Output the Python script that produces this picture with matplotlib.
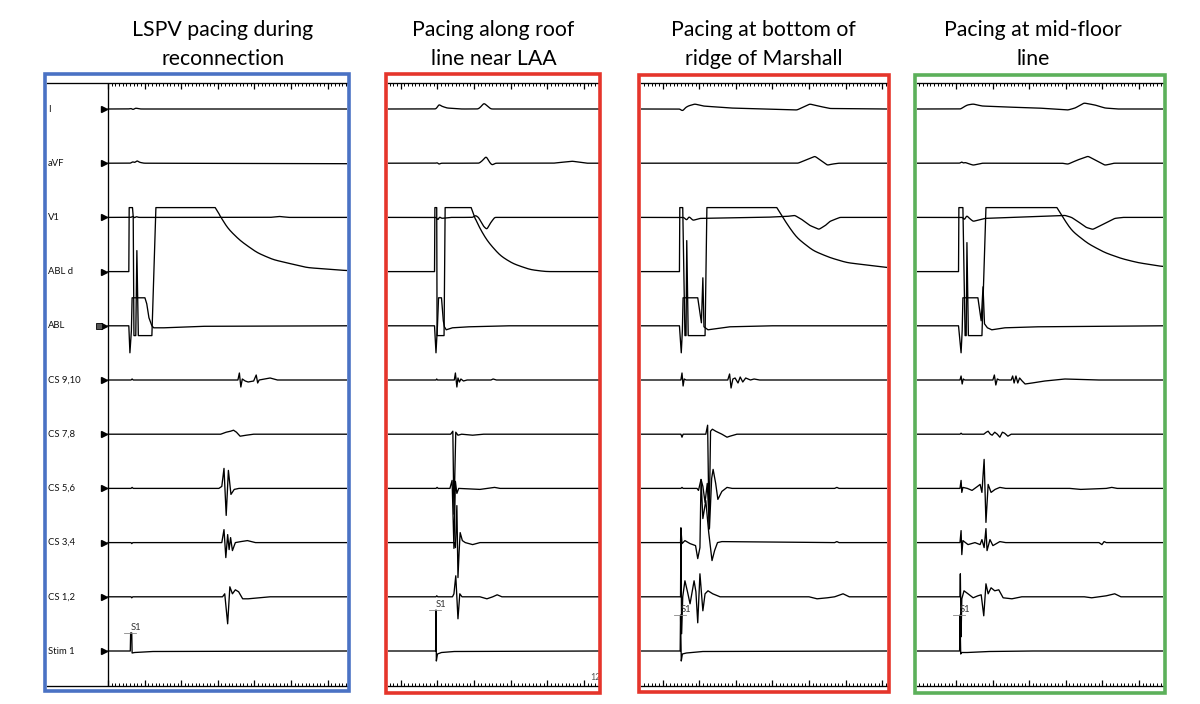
import matplotlib
matplotlib.use("Agg")
import matplotlib.pyplot as plt
from matplotlib.patches import Rectangle
from matplotlib.transforms import blended_transform_factory
import numpy as np

# ---------------- data (time in ms after stimulus, amplitude in a.u.) ----------------
channels = ["I", "aVF", "V1", "ABL d", "ABL", "CS 9,10", "CS 7,8",
            "CS 5,6", "CS 3,4", "CS 1,2", "Stim 1"]

titles = [["LSPV pacing during", "reconnection"],
          ["Pacing along roof", "line near LAA"],
          ["Pacing at bottom of", "ridge of Marshall"],
          ["Pacing at mid-floor", "line"]]

box_colors = ["#4a72c4", "#e5352b", "#e5352b", "#5cb05a"]

# visible time window of each panel (ms) and start of the ruler (first major tick)
x_windows = [(-229.5, 590), (-131, 445), (-109, 563), (-117.5, 555)]
trace_start = [-63, -131, -109, -117.5]
ruler_offsets = [-63, -96, -50, -11]

lspv = {
    "I": [(-63, 0), (-5, 0), (0, 1), (5, -1), (12, 1), (25, 0), (590, 0)],
    "aVF": [(-63, 0), (0, 0), (5, 2), (10, 0), (16, 3), (22, 1), (35, 0), (590, -0.5)],
    "V1": [(-63, 0), (2, 0), (5, 2), (9, -1), (14, 1), (20, 0), (380, 0), (404, 1), (430, 0), (590, 0)],
    "ABL d": [(-63, 0), (-6, 0), (-5, 64), (4, 64), (6, 55), (8, -64), (13, -64), (16, 21), (20, -64),
              (57, -64), (68, 64), (230, 64), (245, 55), (262, 44), (298, 31), (344, 19), (388, 12),
              (481, 4), (590, 1)],
    "ABL": [(-63, 0), (-6, 0), (-3, -27), (1, -5), (3, 28), (38, 28), (43, 22), (49, 8), (57, 0),
            (62, -2), (90, -2), (200, -0.5), (590, 0)],
    "CS 9,10": [(-63, 0), (0, 0), (3, 1), (6, 0), (292, 0), (296, 7), (300, -7), (304, 1), (312, -1),
                (320, -2), (335, -1), (342, 5), (346, -3), (350, 0), (365, 1), (380, 2), (400, 0), (590, 0)],
    "CS 7,8": [(-63, 0), (245, 0), (260, 2), (272, 3), (280, 4), (288, 2), (298, -2), (315, -1),
               (335, 0), (590, 0)],
    "CS 5,6": [(-63, 0), (0, 0), (3, 1), (6, 0), (240, 0), (248, 2), (254, 20), (260, -27), (266, 18),
               (273, -6), (282, -1), (295, 0), (590, 0)],
    "CS 3,4": [(-63, 0), (0, 0), (2, -1), (5, 0), (248, 0), (254, 13), (259, -15), (264, 8), (268, -7),
               (272, 5), (277, -8), (285, 0), (300, 1), (318, 2), (340, 0), (590, 0)],
    "CS 1,2": [(-63, 0), (0, 0), (2, -1), (5, 0), (250, 0), (256, 3), (264, -27), (270, 10), (277, 3),
               (285, 7), (294, 5), (305, -2), (320, -2), (350, -1), (380, 0), (590, 0)],
    "Stim 1": [(-63, 0), (-2, 0), (-1, 18), (2, 18), (3, -2), (10, -1.5), (60, -0.5), (590, 0)],
}

roof = {
    "I": [(-131, 0), (0, 0), (4, 2), (8, 5), (14, 3), (30, 1), (70, 0), (115, 0), (122, 2), (131, 6),
          (140, 3), (150, 0), (445, 0)],
    "aVF": [(-131, 0), (2, 0), (4, 2), (7, -2), (12, 0), (118, 0), (128, 3), (137, 7), (146, 1),
            (153, -2), (162, 0), (320, 0), (372, 2), (410, 0), (445, 0)],
    "V1": [(-131, 0), (2, 0), (5, -4), (9, 1), (15, -1), (40, 0), (100, 0), (108, 2), (116, 0),
           (130, -9), (139, -12), (148, -6), (160, 0), (445, 0)],
    "ABL d": [(-131, 0), (-4, 0), (-3, 64), (2, 64), (3, -64), (22, -64), (25, 64), (96, 64),
              (111, 49), (139, 31), (175, 16), (210, 8), (257, 2), (300, 0), (445, 0)],
    "ABL": [(-131, 0), (-4, 0), (0, -27), (4, 0), (7, 28), (15, 28), (20, 5), (23, -1), (28, -4),
            (45, -2), (90, -1), (200, 0), (445, 0)],
    "CS 9,10": [(-131, 0), (0, 0), (2, 1), (4, 0), (50, 0), (53, 7), (57, -7), (60, 2), (64, -2),
                (68, 1), (75, -1), (85, 0), (150, 0), (156, 1), (165, 0), (445, 0)],
    "CS 7,8": [(-131, 0), (40, 0), (46, 3), (49, -80), (54, 2), (60, -1), (70, 0), (100, -1),
               (130, 0), (445, 0)],
    "CS 5,6": [(-131, 0), (0, 0), (3, 1), (6, 0), (38, 0), (44, 8), (49, -60), (53, 7), (57, -5),
               (62, 0), (120, -1), (160, 1), (175, 0), (445, 0)],
    "CS 3,4": [(-131, 0), (50, 0), (53, -5), (57, 37), (60, -35), (63, -10), (66, 10), (72, 2),
               (80, 0), (100, -2), (120, 0), (445, 0)],
    "CS 1,2": [(-131, 0), (0, 0), (2, 1), (5, 0), (45, 0), (49, 3), (54, 21), (60, -22), (65, 3),
               (71, 0), (120, 0), (139, -2), (155, 0), (167, 2), (180, 0), (445, 0)],
    "Stim 1": [(-131, 0), (-1, 0), (0, 41), (1, -10), (4, -3), (15, -1.5), (50, -0.5), (445, 0)],
}

marshall = {
    "I": [(-109, 0), (-2, 0), (3, -2), (8, -1), (11, 1), (20, 3), (38, 5), (60, 3), (134, 1),
          (224, 0), (317, -1), (335, 2), (352, 5), (375, 3), (407, 0.5), (563, 0)],
    "aVF": [(-109, 0), (320, 0), (340, 3), (366, 7), (385, 2), (400, -2), (412, -1), (430, 0), (563, 0)],
    "V1": [(-109, 0), (8, 0), (16, -3), (22, 1), (33, -3), (52, -1), (224, 0), (290, 1), (311, 2),
           (330, -2), (352, -8), (377, -12), (395, -8), (407, -4), (434, 0), (563, 0)],
    "ABL d": [(-109, 0), (-4, 0), (-3, 64), (5, 64), (11, -64), (14, -64), (16, 31), (20, -64),
              (66, -64), (71, 64), (262, 64), (289, 48), (316, 34), (361, 21), (407, 14), (453, 9),
              (498, 7), (563, 4)],
    "ABL": [(-109, 0), (-4, 0), (1, -27), (4, -5), (6, 28), (46, 28), (56, 3), (60, 48), (63, -1),
            (74, -4), (134, -1), (250, 0), (563, 0)],
    "CS 9,10": [(-109, 0), (0, 0), (3, 7), (6, -6), (9, 1), (14, 0), (128, 0), (133, 6), (137, -8),
                (142, 1), (148, 2), (156, -3), (162, 3), (169, -2), (177, 2), (190, 0), (200, 1),
                (215, 0), (563, 0)],
    "CS 7,8": [(-109, 0), (0, 0), (3, -3), (6, 0), (68, 0), (73, 9), (77, -95), (81, 3), (86, 5),
               (95, 3), (112, 0), (126, -3), (134, -2), (153, 0), (563, 0)],
    "CS 5,6": [(-109, 0), (0, 0), (3, 1), (6, 0), (44, 0), (48, -2), (55, 9), (60, 2), (66, -14),
               (72, 5), (78, -40), (84, 10), (88, 19), (95, 5), (101, -11), (112, -3), (126, 1),
               (140, 0), (420, 0), (426, 1), (432, 0), (563, 0)],
    "CS 3,4": [(-109, 0), (-1, 0), (0, 14), (3, -1), (11, 2), (25, -1), (40, -3), (46, -16), (52, -5),
               (55, 63), (60, 24), (68, 42), (76, 10), (85, -18), (92, -8), (100, 0), (112, 1),
               (420, 0), (426, 1), (432, 0), (563, 0)],
    "CS 1,2": [(-109, 0), (-1, 0), (0, 69), (2, -37), (5, 0), (11, 16), (18, 5), (25, -7), (36, 16),
               (41, 5), (46, -26), (52, 23), (60, -14), (66, 3), (74, 6), (87, 3), (107, 0), (350, 0),
               (372, -2), (400, -1), (420, 0), (443, 3), (460, 0), (563, 0)],
    "Stim 1": [(-109, 0), (-2, 0), (-1, 36), (1, -10), (4, -3), (15, -2), (60, -0.5), (563, 0)],
}

midfloor = {
    "I": [(-117.5, 0), (2, 0), (10, 2), (20, 4), (36, 5), (60, 3), (123, 2), (213, 1), (295, -1),
          (315, 1), (339, 6), (369, 4), (396, 1), (430, 0), (555, 0)],
    "aVF": [(-117.5, 0), (2, 0), (5, 3), (8, -1), (12, 1), (36, -2), (60, 0), (280, 0), (295, -1),
            (320, 3), (350, 7), (375, 2), (396, -2), (410, -1), (420, 0), (555, 0)],
    "V1": [(-117.5, 0), (8, 0), (12, -3), (18, 2), (26, -1), (36, -4), (68, -1), (213, 1), (287, 2),
           (305, 0), (322, -4), (345, -10), (363, -12), (380, -9), (396, -6), (423, -1), (445, 0),
           (555, 0)],
    "ABL d": [(-117.5, 0), (-4, 0), (-3, 64), (8, 64), (14, -64), (17, -64), (19, 29), (23, -64),
              (60, -64), (71, 64), (265, 64), (287, 51), (305, 41), (350, 28), (396, 19), (442, 13),
              (486, 9), (555, 5)],
    "ABL": [(-117.5, 0), (-4, 0), (3, -27), (6, -5), (8, 28), (49, 28), (58, 5), (63, 39), (67, 2),
            (75, -2), (87, -4), (123, -2), (213, -1), (555, 0)],
    "CS 9,10": [(-117.5, 0), (0, 0), (3, 4), (6, -4), (9, 1), (13, 0), (90, 0), (94, 5), (98, -5),
                (102, 1), (108, 0), (140, 0), (144, 4), (148, -3), (153, 4), (158, -3), (163, 2),
                (170, -1), (178, -4), (197, -3), (232, -1), (287, 1), (380, 0), (555, 0)],
    "CS 7,8": [(-117.5, 0), (0, 0), (3, 1), (6, 0), (65, 0), (72, 2), (77, 3), (83, 0), (88, -1),
               (95, 2), (102, 0), (109, -3), (116, 2), (122, 1), (131, -2), (140, 0), (555, 0)],
    "CS 5,6": [(-117.5, 0), (0, 0), (3, 8), (5, -4), (8, 1), (20, 0), (33, -2), (48, 2), (55, 4),
               (60, -4), (66, 29), (71, -34), (77, 4), (85, -4), (96, -1), (109, 1), (125, 0),
               (300, 0), (330, -1), (400, 0), (415, 1), (430, 0), (555, 0)],
    "CS 3,4": [(-117.5, 0), (0, 0), (3, 12), (5, -12), (8, 2), (22, -2), (41, 0), (55, -2), (60, 3),
               (66, -5), (71, 14), (74, -8), (82, 3), (90, -3), (109, 1), (125, 0), (380, 0),
               (388, -2), (394, 1), (400, 0), (555, 0)],
    "CS 1,2": [(-117.5, 0), (0, 0), (1, 23), (3, -40), (5, -2), (11, 6), (22, 3), (36, -1), (49, 1),
               (58, 2), (65, -19), (71, 13), (77, 3), (85, 9), (95, 6), (106, 7), (118, -1),
               (142, -2), (169, 0), (340, 0), (360, -1), (400, 1), (423, 3), (440, 0), (555, 0)],
    "Stim 1": [(-117.5, 0), (-1, 0), (0, 36), (2, -3), (4, -1.5), (20, -1.5), (80, -0.5), (200, 0),
               (555, 0)],
}

panels = [lspv, roof, marshall, midfloor]

# smoothing (ms) of the slow surface-ECG waves and of the ABL d recovery tail
ecg_smooth = {"I": 2.5, "aVF": 2.5, "V1": 2.0}
tail_smooth = 9.0

# ---------------- layout (pixels of a 1200 x 704 canvas) ----------------
W, H = 1200, 704
CH_SPACING = 54.2
YLIM = (-577, 26)

axes_px = [(47, 347), (388, 599), (641, 887), (917, 1163)]
AX_TOP, AX_BOTTOM = 83, 686
boxes_px = [(45, 73.5, 348.5, 691), (385.7, 74.3, 600, 692.5),
            (638.7, 75, 888.7, 691.5), (915, 75, 1165, 693)]
title_cx = [223, 493.5, 763.5, 1033]
title_base = [36, 65]


def gauss_smooth(t, y, sigma, t_from=-np.inf):
    step = t[1] - t[0]
    half = int(np.ceil(3 * sigma / step))
    k = np.exp(-0.5 * (np.arange(-half, half + 1) * step / sigma) ** 2)
    k /= k.sum()
    yp = np.concatenate([np.full(half, y[0]), y, np.full(half, y[-1])])
    ys = np.convolve(yp, k, mode="valid")
    return np.where(t >= t_from, ys, y)


def trace(pts, ch):
    pts = np.array(pts, dtype=float)
    if ch in ecg_smooth:
        t = np.arange(pts[0, 0], pts[-1, 0] + 0.01, 0.5)
        y = np.interp(t, pts[:, 0], pts[:, 1])
        return t, gauss_smooth(t, y, ecg_smooth[ch])
    if ch == "ABL d":
        top = pts[pts[:, 1] >= 64, 0].max()
        t_tail = np.arange(top, pts[-1, 0] + 0.01, 0.5)
        y_tail = np.interp(t_tail, pts[:, 0], pts[:, 1])
        y_tail = gauss_smooth(t_tail, y_tail, tail_smooth, top + 12)
        head = pts[pts[:, 0] < top]
        return (np.concatenate([head[:, 0], t_tail]),
                np.concatenate([head[:, 1], y_tail]))
    return pts[:, 0], pts[:, 1]


fig = plt.figure(figsize=(W / 100, H / 100), dpi=100)
fig.patch.set_facecolor("white")

TFONT = ["Lato", "DejaVu Sans"]

for p, data in enumerate(panels):
    x0, x1 = axes_px[p]
    ax = fig.add_axes([x0 / W, 1 - AX_BOTTOM / H, (x1 - x0) / W, (AX_BOTTOM - AX_TOP) / H])
    ax.set_facecolor("none")
    ax.set_xlim(*x_windows[p])
    ax.set_ylim(*YLIM)
    for s in ("left", "right"):
        ax.spines[s].set_visible(False)
    for s in ("top", "bottom"):
        ax.spines[s].set_linewidth(0.95)
    ax.set_yticks([])

    # ruler ticks
    off = ruler_offsets[p]
    lo, hi = x_windows[p]
    if p == 0:
        lo = trace_start[0]
    majors = np.arange(off, hi + 0.1, 100)
    minors = np.arange(off - 100 * np.ceil((off - lo) / 100), hi + 0.1, 10)
    minors = minors[minors >= lo - 0.1]
    majors = majors[majors >= lo - 0.1]
    ax.set_xticks(majors)
    ax.set_xticks(minors, minor=True)
    ax.tick_params(axis="x", which="both", direction="in", top=True, bottom=True,
                   labelbottom=False, labeltop=False)
    ax.tick_params(axis="x", which="major", length=4.6, width=0.9)
    ax.tick_params(axis="x", which="minor", length=2.4, width=0.7)

    if p == 0:
        ax.axvline(trace_start[0], color="black", lw=0.95)

    for k, ch in enumerate(channels):
        base = -CH_SPACING * k
        t, y = trace(data[ch], ch)
        ax.plot(t, y + base, color="black", lw=0.95, solid_joinstyle="round")

    # stimulus label
    stim = np.array(data["Stim 1"], dtype=float)
    peak = stim[:, 1].max()
    sb = -CH_SPACING * (len(channels) - 1)
    ax.plot([-19, 14], [sb + peak, sb + peak], color="#888888", lw=0.6)
    ax.text(-2, sb + peak + 3, "S1", fontsize=6.8, family=TFONT, color="#333333",
            ha="left", va="baseline")

    if p == 0:
        tr = blended_transform_factory(ax.transAxes, ax.transData)
        for k, ch in enumerate(channels):
            base = -CH_SPACING * k
            ax.text(0.003, base, ch, transform=tr, fontsize=6.8, family=TFONT,
                    ha="left", va="center", color="#111111")
            ax.plot([-73], [base], marker=">", ms=4.8, color="black", mec="black")
        ax.plot([-87], [-CH_SPACING * channels.index("ABL")], marker="s", ms=4.8,
                mfc="#555555", mec="black", mew=0.6)

    if p == 1:
        ax.text(421, sb - 29, "12", fontsize=6.5, family=TFONT, color="#555555",
                ha="left", va="baseline", clip_on=True)

    # titles
    for i, line in enumerate(titles[p]):
        fig.text(title_cx[p] / W, 1 - title_base[i] / H, line, fontsize=15.3,
                 family=TFONT, ha="center", va="baseline", color="black")

    # coloured frame
    bx0, by0, bx1, by1 = boxes_px[p]
    fig.patches.append(Rectangle((bx0 / W, 1 - by1 / H), (bx1 - bx0) / W, (by1 - by0) / H,
                                 transform=fig.transFigure, fill=False,
                                 edgecolor=box_colors[p], lw=2.6, zorder=5))

fig.savefig("out.png", dpi=100, facecolor="white")
